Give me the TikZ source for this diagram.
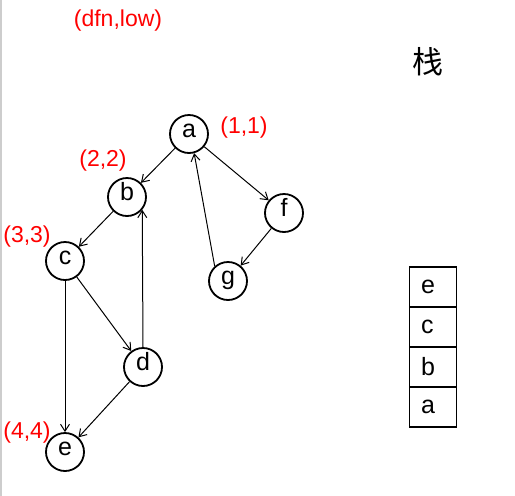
\documentclass[tikz,border=0pt]{standalone}
\usepackage{fontspec}
\setmainfont{Liberation Sans}
\newfontfamily\cjkfont{Noto Sans CJK SC}
\usetikzlibrary{arrows.meta,positioning}
\definecolor{lblred}{RGB}{255,0,0}
\definecolor{edgegray}{RGB}{205,205,205}

\begin{document}
\begin{tikzpicture}[
  x=1pt, y=-1pt,
  font=\fontsize{23}{27}\selectfont,
  vtx/.style={draw, circle, line width=1.8pt, minimum size=38pt, inner sep=0pt,
              font=\fontsize{25}{29}\selectfont,
              text height=0.8em, text depth=0.15em},
  lbl/.style={text=lblred, inner sep=0pt},
  arr/.style={-{Straight Barb[length=7pt,width=9pt]}, line width=1pt},
  cell/.style={draw, line width=1.2pt, minimum width=47pt, minimum height=40pt,
               inner sep=0pt, text width=24pt, align=left,
               font=\fontsize{25}{29}\selectfont},
]
\useasboundingbox (0,0) rectangle (515,496);

%% ---- left border ----
\coordinate (lt) at (1,0);
\coordinate (lb) at (1,496);
\draw[edgegray, line width=1.5pt] (lt) -- (lb);

%% ---- vertices ----
\node[vtx] (a) at (189,134) {a};
\node[vtx] (b) at (127,197) {b};
\node[vtx] (c) at (65,261)  {c};
\node[vtx] (d) at (143,367) {d};
\node[vtx] (e) at (65,452)  {e};
\node[vtx] (f) at (284,213) {f};
\node[vtx] (g) at (228,281) {g};

%% ---- edges ----
\foreach \u/\v in {a/b,b/c,c/d,c/e,d/e,a/f,f/g}{\draw[arr] (\u) -- (\v);}
\draw[arr] (d.north) -- (b.-40);
\draw[arr] (g.132) -- (a.-75);

%% ---- (dfn,low) labels ----
\node[lbl] (hd) at (118,21)  {(dfn,low)};
\node[lbl] (la) at (244,128) {(1,1)};
\node[lbl] (lb2) at (103,161) {(2,2)};
\node[lbl] (lc) at (27,237)  {(3,3)};
\node[lbl] (le) at (27,433)  {(4,4)};

%% ---- stack ----
\node[inner sep=0pt, font=\fontsize{31}{33}\selectfont\cjkfont] (st) at (428,62) {栈};
\foreach \t [count=\i] in {e,c,b,a}{
  \node[cell] (s\i) at (433,247+40*\i) {\t};
}

\end{tikzpicture}
\end{document}
